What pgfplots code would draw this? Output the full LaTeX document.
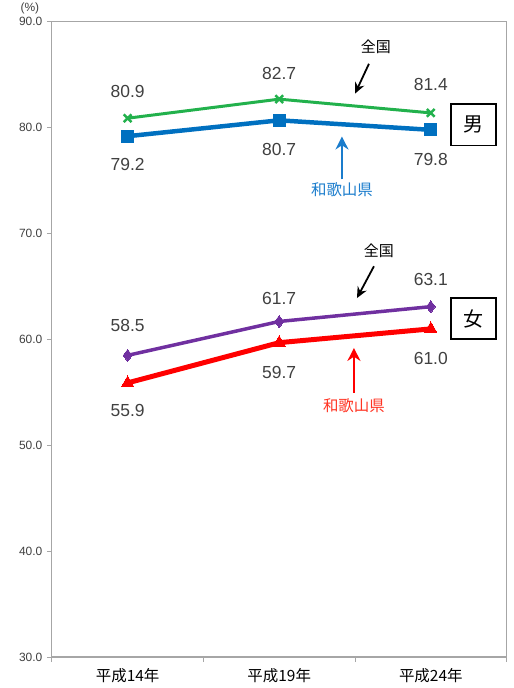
\documentclass[border=0pt]{standalone}
\usepackage{pgfplots}
\pgfplotsset{compat=1.18}
\usepackage{fontspec}
\setmainfont{Liberation Sans}
\newfontfamily\jp{Noto Sans CJK JP}
\usetikzlibrary{arrows.meta}
\definecolor{cgreen}{HTML}{22B14C}
\definecolor{cblue}{HTML}{0070C0}
\definecolor{cpurple}{HTML}{7030A0}
\definecolor{cred}{HTML}{FF0000}
\definecolor{cbluet}{HTML}{1A7CCC}
\definecolor{credt}{HTML}{FF3322}
\definecolor{caxis}{HTML}{A6A6A6}
\definecolor{ctext}{HTML}{404040}
\begin{document}
\begin{tikzpicture}
\begin{axis}[
  name=ax, at={(0,0)}, anchor=south west,
  scale only axis, width=456pt, height=637pt,
  xmin=-0.5, xmax=2.5, ymin=30, ymax=90,
  xtick={0,1,2},
  xticklabels={平成14年,平成19年,平成24年},
  x tick label style={font=\jp\fontsize{15.5}{15.5}\selectfont, text=black, yshift=-3pt},
  minor xtick={-0.5,0.5,1.5,2.5},
  major x tick style={draw=none},
  ytick={30,40,50,60,70,80,90},
  y tick label style={font=\fontsize{12}{12}\selectfont, text=ctext, xshift=-1pt},
  /pgf/number format/assume math mode=true,
  yticklabel={\pgfmathprintnumber[fixed,fixed zerofill,precision=1]{\tick}},
  tick pos=left, tick align=outside,
  major tick length=5pt, minor tick length=5pt,
  every tick/.style={draw=caxis, line width=1pt},
  axis line style={draw=caxis, line width=1.2pt},
  clip=false,
]
\addplot[color=cgreen, line width=3pt, mark=x, mark size=5.5pt, mark options={line width=2.5pt}] coordinates {(0,80.9) (1,82.7) (2,81.4)};
\addplot[color=cblue, line width=4.5pt, mark=square*, mark size=6pt, mark options={line width=0pt}] coordinates {(0,79.2) (1,80.7) (2,79.8)};
\addplot[color=cpurple, line width=3.5pt, mark=diamond*, mark size=6pt, mark options={line width=0pt}] coordinates {(0,58.5) (1,61.7) (2,63.1)};
\addplot[color=cred, line width=5pt, mark=triangle*, mark size=7pt, mark options={line width=0pt}] coordinates {(0,55.9) (1,59.7) (2,61.0)};

\begin{scope}[every node/.style={font=\fontsize{17.5}{17.5}\selectfont, text=ctext}]
\node at (axis cs:0,83.4) {80.9};
\node at (axis cs:1,85.1) {82.7};
\node at (axis cs:2,84.1) {81.4};
\node at (axis cs:0,76.5) {79.2};
\node at (axis cs:1,77.9) {80.7};
\node at (axis cs:2,77.0) {79.8};
\node at (axis cs:0,61.3) {58.5};
\node at (axis cs:1,63.9) {61.7};
\node at (axis cs:2,65.7) {63.1};
\node at (axis cs:0,53.3) {55.9};
\node at (axis cs:1,56.9) {59.7};
\node at (axis cs:2,58.2) {61.0};
\end{scope}

\node[draw=black, line width=1.8pt, minimum width=45pt, minimum height=42pt, inner sep=0pt, font=\jp\fontsize{20}{20}\selectfont] at (axis cs:2.28,80.3) {男};
\node[draw=black, line width=1.8pt, minimum width=45pt, minimum height=41pt, inner sep=0pt, font=\jp\fontsize{20}{20}\selectfont] at (axis cs:2.28,61.98) {女};

\node[font=\jp\fontsize{15}{15}\selectfont] at (axis cs:1.638,87.65) {全国};
\draw[-{Stealth[length=11pt,width=10pt]}, line width=1.8pt] (axis cs:1.592,86.04) -- (axis cs:1.50,83.22);
\node[font=\jp\fontsize{15}{15}\selectfont] at (axis cs:1.658,68.34) {全国};
\draw[-{Stealth[length=11pt,width=10pt]}, line width=1.8pt] (axis cs:1.625,66.92) -- (axis cs:1.513,63.91);

\node[font=\jp\fontsize{15.5}{15.5}\selectfont, text=cbluet] at (axis cs:1.414,74.18) {和歌山県};
\draw[-{Stealth[length=13pt,width=13pt]}, line width=2.2pt, cbluet] (axis cs:1.414,75.12) -- (axis cs:1.414,79.17);
\node[font=\jp\fontsize{15.5}{15.5}\selectfont, text=credt] at (axis cs:1.493,53.74) {和歌山県};
\draw[-{Stealth[length=13pt,width=13pt]}, line width=2.2pt, cred] (axis cs:1.493,54.96) -- (axis cs:1.493,59.2);
\end{axis}
\draw[caxis, line width=1.2pt] (0,637pt) -- (456pt,637pt) -- (456pt,0);
\node[font=\fontsize{12}{12}\selectfont, text=ctext] at (-22pt,650pt) {(\%)};
\path[use as bounding box] (-52pt,-31pt) rectangle (463pt,657pt);
\end{tikzpicture}
\end{document}
